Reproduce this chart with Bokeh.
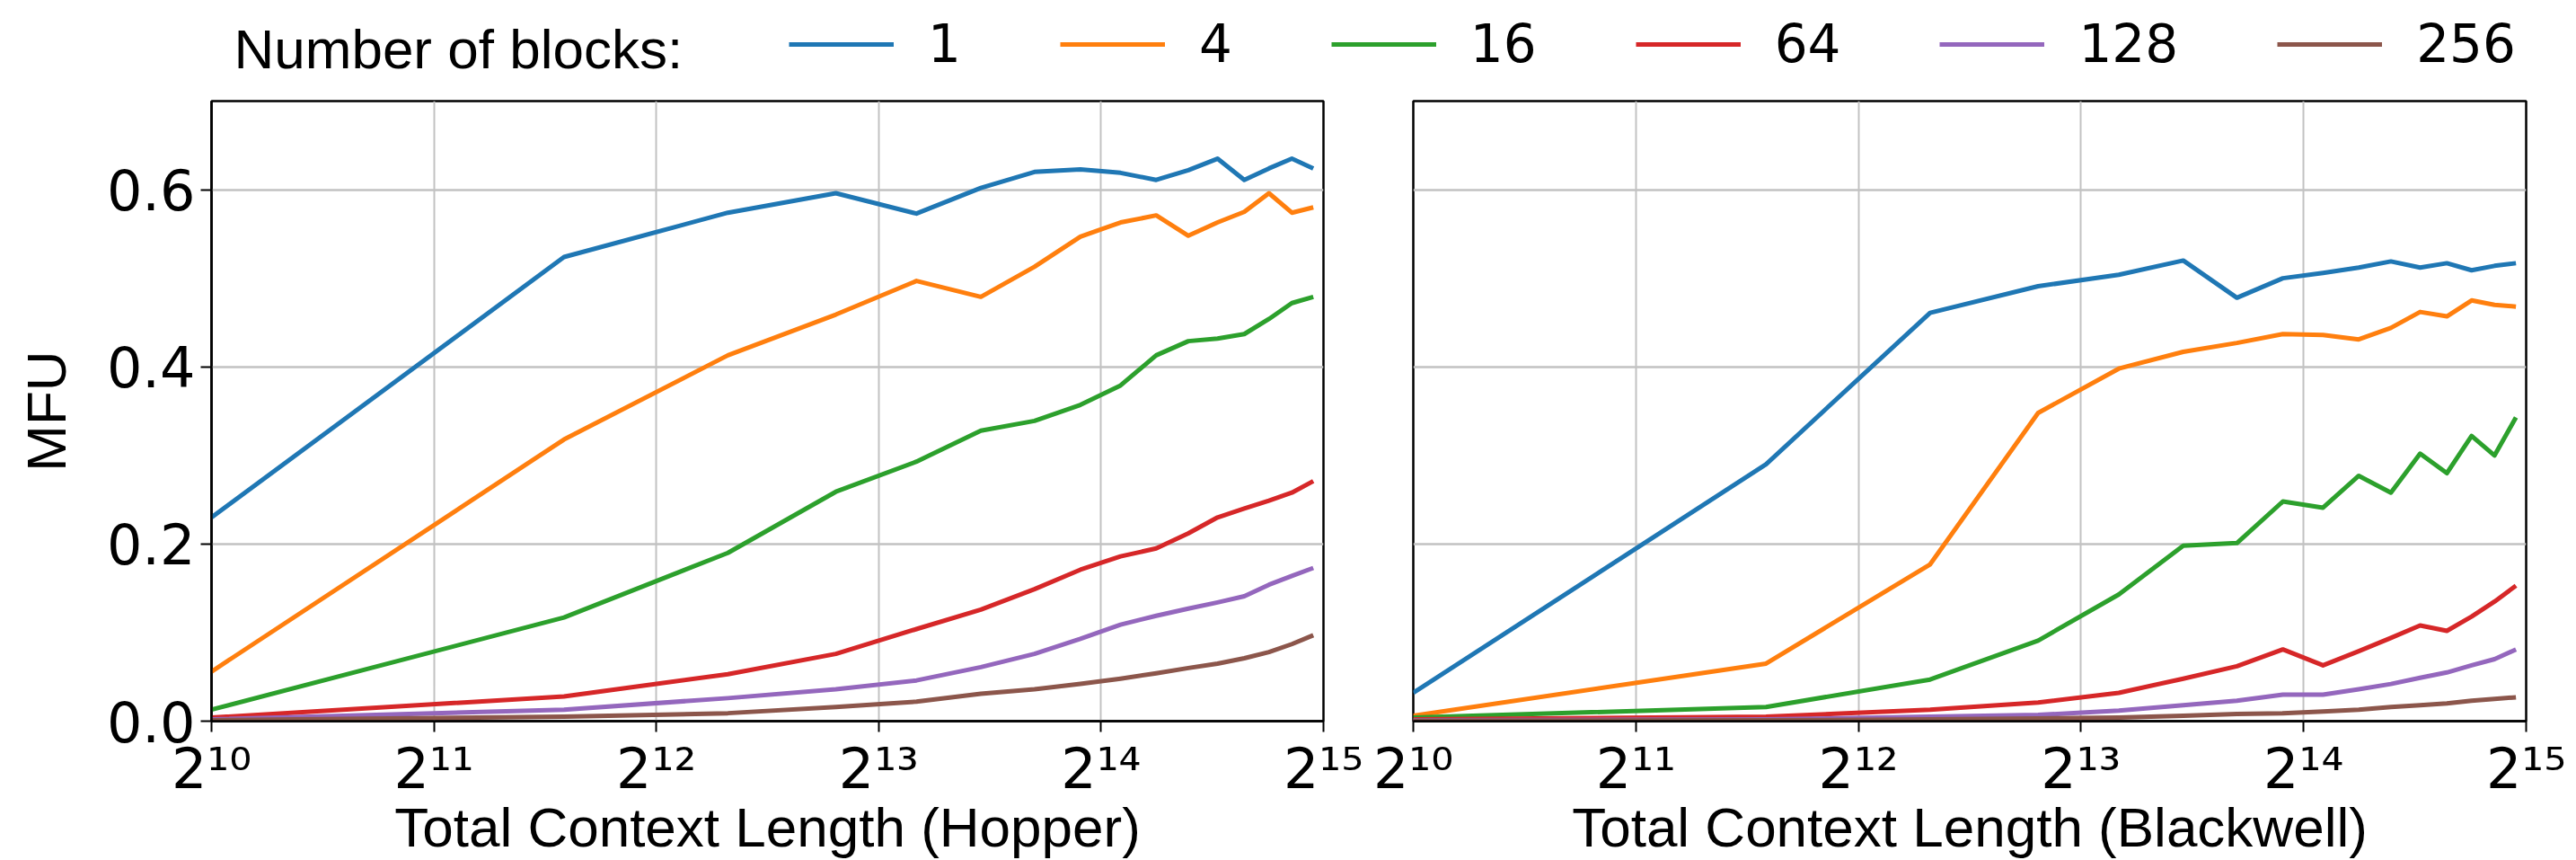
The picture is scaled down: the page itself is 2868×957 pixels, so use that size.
from bokeh.plotting import figure
from bokeh.layouts import column, row
from bokeh.models import (FixedTicker, PrintfTickFormatter, Legend, LegendItem,
                          Label, Range1d)
from bokeh.embed import file_html
from bokeh.resources import INLINE

# ---------------- data ----------------
context_len = [1024, 3072, 5120, 7168, 9216, 11264, 13312, 15360,
               17408, 19456, 21504, 23552, 25600, 27648, 29696, 31744]
blocks = ["1", "4", "16", "64", "128", "256"]
colors = ["#1f77b4", "#ff7f0e", "#2ca02c", "#d62728", "#9467bd", "#8c564b"]

x_ticks = [1024, 2048, 4096, 8192, 16384, 32768]
x_tick_labels = ["2¹⁰", "2¹¹", "2¹²", "2¹³", "2¹⁴", "2¹⁵"]
y_ticks = [0.0, 0.2, 0.4, 0.6]

hopper_1 = [0.230, 0.524, 0.574, 0.596, 0.573, 0.602, 0.620, 0.623,
            0.619, 0.611, 0.622, 0.635, 0.611, 0.624, 0.635, 0.624]
hopper_4 = [0.056, 0.318, 0.413, 0.459, 0.497, 0.479, 0.513, 0.547,
            0.563, 0.571, 0.548, 0.563, 0.575, 0.596, 0.574, 0.580]
hopper_16 = [0.013, 0.117, 0.190, 0.259, 0.293, 0.328, 0.339, 0.357,
             0.379, 0.413, 0.429, 0.432, 0.437, 0.454, 0.472, 0.479]
hopper_64 = [0.004, 0.028, 0.053, 0.076, 0.104, 0.126, 0.149, 0.171,
             0.186, 0.195, 0.212, 0.230, 0.240, 0.249, 0.258, 0.271]
hopper_128 = [0.002, 0.013, 0.026, 0.036, 0.046, 0.061, 0.076, 0.093,
              0.109, 0.119, 0.127, 0.134, 0.141, 0.154, 0.164, 0.173]
hopper_256 = [0.001, 0.005, 0.009, 0.016, 0.022, 0.031, 0.036, 0.042,
              0.048, 0.054, 0.060, 0.065, 0.071, 0.078, 0.087, 0.097]

blackwell_1 = [0.032, 0.290, 0.461, 0.491, 0.504, 0.520, 0.478, 0.500,
               0.506, 0.512, 0.519, 0.512, 0.517, 0.509, 0.514, 0.517]
blackwell_4 = [0.006, 0.065, 0.177, 0.348, 0.398, 0.417, 0.427, 0.437,
               0.436, 0.431, 0.444, 0.462, 0.457, 0.475, 0.470, 0.468]
blackwell_16 = [0.004, 0.016, 0.047, 0.091, 0.143, 0.198, 0.201, 0.248,
                0.241, 0.277, 0.258, 0.302, 0.280, 0.322, 0.300, 0.343]
blackwell_64 = [0.002, 0.005, 0.013, 0.021, 0.032, 0.048, 0.062, 0.081,
                0.063, 0.079, 0.094, 0.108, 0.102, 0.118, 0.135, 0.153]
blackwell_128 = [0.001, 0.002, 0.005, 0.007, 0.012, 0.018, 0.023, 0.030,
                 0.030, 0.036, 0.042, 0.049, 0.055, 0.063, 0.070, 0.081]
blackwell_256 = [0.0005, 0.001, 0.002, 0.003, 0.004, 0.006, 0.008, 0.009,
                 0.011, 0.013, 0.016, 0.018, 0.020, 0.023, 0.025, 0.027]

hopper = [hopper_1, hopper_4, hopper_16, hopper_64, hopper_128, hopper_256]
blackwell = [blackwell_1, blackwell_4, blackwell_16, blackwell_64,
             blackwell_128, blackwell_256]

TEXT_FONT = "Liberation Sans"
NUM_FONT = "DejaVu Sans"
LINE_W = 5
GRID = "#c2c2c2"
PANEL_H = 853


def make_panel(series, xlabel, show_y, width, border_left, border_right):
    p = figure(width=width, height=PANEL_H, x_axis_type="log",
               x_range=Range1d(1024, 32768), y_range=Range1d(0, 0.7),
               output_backend="svg", toolbar_location=None,
               min_border_left=border_left, min_border_right=border_right,
               min_border_top=8, min_border_bottom=155)
    for vals, c in zip(series, colors):
        p.line(context_len, vals, line_color=c, line_width=LINE_W,
               line_join="round")

    p.outline_line_color = "black"
    p.outline_line_width = 2.5

    xt = FixedTicker(ticks=x_ticks, minor_ticks=[])
    yt = FixedTicker(ticks=y_ticks, minor_ticks=[])
    p.xaxis.ticker = xt
    p.yaxis.ticker = yt
    p.xgrid.ticker = xt
    p.ygrid.ticker = yt
    p.xgrid.grid_line_color = GRID
    p.ygrid.grid_line_color = GRID
    p.xgrid.grid_line_width = 2
    p.ygrid.grid_line_width = 2.5

    ax = p.xaxis[0]
    ax.major_label_overrides = {t: lab for t, lab in zip(x_ticks, x_tick_labels)}
    ax.major_label_text_font = NUM_FONT
    ax.major_label_text_font_size = "62px"
    ax.major_label_text_color = "black"
    ax.major_tick_out = 12
    ax.major_tick_in = 0
    ax.minor_tick_out = 0
    ax.minor_tick_in = 0
    ax.major_tick_line_width = 2
    ax.major_label_standoff = 4
    ax.axis_line_color = "black"
    ax.axis_line_width = 2.5
    ax.axis_label = xlabel
    ax.axis_label_text_font = TEXT_FONT
    ax.axis_label_text_font_size = "62px"
    ax.axis_label_text_font_style = "normal"
    ax.axis_label_text_color = "black"
    ax.axis_label_standoff = -9

    ay = p.yaxis[0]
    if show_y:
        ay.formatter = PrintfTickFormatter(format="%.1f")
        ay.major_label_text_font = NUM_FONT
        ay.major_label_text_font_size = "62px"
        ay.major_label_text_color = "black"
        ay.major_tick_out = 12
        ay.major_tick_in = 0
        ay.minor_tick_out = 0
        ay.minor_tick_in = 0
        ay.major_tick_line_width = 2
        ay.major_label_standoff = 6
        ay.axis_line_color = "black"
        ay.axis_line_width = 2.5
        ay.axis_label = "MFU"
        ay.axis_label_text_font = TEXT_FONT
        ay.axis_label_text_font_size = "62px"
        ay.axis_label_text_font_style = "normal"
        ay.axis_label_text_color = "black"
        ay.axis_label_standoff = 30
    else:
        ay.visible = False
    return p


p1 = make_panel(hopper, "Total Context Length (Hopper)", True, 1523, 235, 50)
p2 = make_panel(blackwell, "Total Context Length (Blackwell)", False, 1337, 50, 48)

# ---------------- legend strip ----------------
pl = figure(width=2860, height=104, x_range=Range1d(0, 1), y_range=Range1d(0, 1),
            output_backend="svg", toolbar_location=None,
            x_axis_location=None, y_axis_location=None, min_border=0)
pl.outline_line_color = None
pl.xgrid.visible = False
pl.ygrid.visible = False
items = []
for b, c, vals in zip(blocks, colors, hopper):
    # same data as the panels; lies outside this strip's ranges, only its legend shows
    r = pl.line(context_len, vals, line_color=c, line_width=LINE_W)
    items.append(LegendItem(label=b, renderers=[r]))
legend = Legend(items=items, orientation="horizontal", location=(878, 21),
                glyph_width=117, glyph_height=40, label_standoff=38, spacing=110,
                padding=0, margin=0, border_line_alpha=0, background_fill_alpha=0,
                label_text_font=NUM_FONT, label_text_font_size="58px",
                label_text_color="black")
pl.add_layout(legend)
pl.add_layout(Label(x=260, y=50, x_units="screen", y_units="screen",
                    text="Number of blocks:", text_font=TEXT_FONT,
                    text_font_size="62px", text_baseline="middle",
                    text_color="black"))

layout = column(pl, row(p1, p2, spacing=0), spacing=0)

open("out.html", "w").write(file_html(layout, INLINE))
